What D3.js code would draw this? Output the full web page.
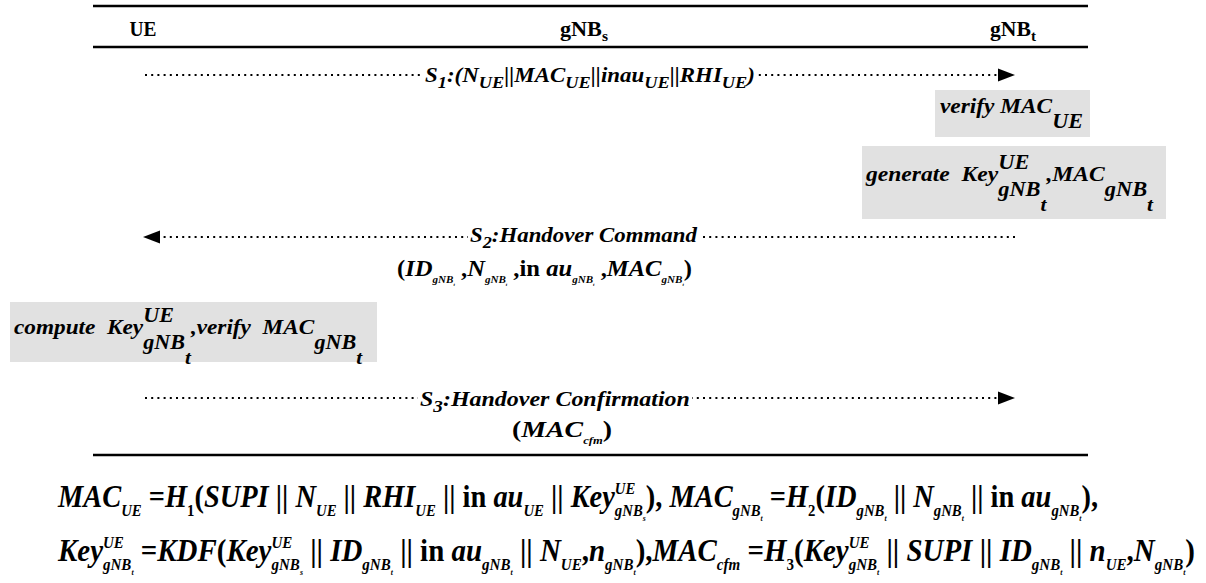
<!DOCTYPE html>
<html>
<head>
<meta charset="utf-8">
<script src="https://cdn.jsdelivr.net/npm/d3@7"></script>
<style>
  body { margin: 0; background: #fff; }
  svg text { white-space: pre; }
</style>
</head>
<body>
<svg id="chart" width="1206" height="583"></svg>
<script>
// participants of the handover, left to right
const participants = ["UE", "gNB_s", "gNB_t"];

// messages, in order ( _ sub, ^ sup, ` toggles upright )
const messages = [
  { from: "UE", to: "gNB_t", label: "S_1:(N_{UE}||MAC_{UE}||inau_{UE}||RHI_{UE})", param: null },
  { from: "gNB_t", to: "UE", label: "S_2:Handover Command", param: "`(`ID_{gNB_t}` ,`N_{gNB_t}` ,in `au_{gNB_t}` ,`MAC_{gNB_t}`)`" },
  { from: "UE", to: "gNB_t", label: "S_3:Handover Confirmation", param: "`(`MAC_{cfm}`)`" }
];

// local computations
const actions = [
  { at: "gNB_t", text: "verify MAC_{UE}" },
  { at: "gNB_t", text: "generate  Key^{UE}_{gNB_t},MAC_{gNB_t}" },
  { at: "UE", text: "compute  Key^{UE}_{gNB_t},verify  MAC_{gNB_t}" }
];

const formulas = [
  "MAC_{UE}` =`H_{`1`}`(`SUPI` || `N_{UE}` || `RHI_{UE}` || in `au_{UE}` || `Key^{UE}_{gNB_s}`), `MAC_{gNB_t}` =`H_{`2`}`(`ID_{gNB_t}` || `N_{gNB_t}` || in `au_{gNB_t}`),`",
  "Key^{UE}_{gNB_t}` =`KDF`(`Key^{UE}_{gNB_s}` || `ID_{gNB_t}` || in `au_{gNB_t}` || `N_{UE}`,`n_{gNB_t}`),`MAC_{cfm}` =`H_{`3`}`(`Key^{UE}_{gNB_t}` || `SUPI` || `ID_{gNB_t}` || `n_{UE}`,`N_{gNB_t}`)`"
];

const FONT = "Liberation Serif, Times New Roman, serif";

const svg = d3.select("#chart");
const x = d3.scalePoint().domain(participants).range([143, 1015]);

// ---- tiny math markup ----
function parse(s, st) {
  const out = [];
  let buf = "";
  const flush = () => { if (buf) out.push({ t: buf, up: st.up }); buf = ""; };
  while (st.i < s.length) {
    const c = s[st.i++];
    if (c === "}") break;
    if (c === "`") { flush(); st.up = !st.up; continue; }
    if (c === "_" || c === "^") {
      flush();
      let grp;
      if (s[st.i] === "{") { st.i++; grp = parse(s, st); }
      else grp = [{ t: s[st.i++], up: st.up }];
      let last = out[out.length - 1];
      if (!last || !last.scr) { last = { scr: true }; out.push(last); }
      last[c === "_" ? "sub" : "sup"] = grp;
      continue;
    }
    buf += c;
  }
  flush();
  return out;
}

function layout(g, nodes, x0, y, size, o) {
  let cx = x0;
  nodes.forEach(n => {
    if (n.scr) {
      let w = 0;
      if (n.sup) w = Math.max(w, layout(g, n.sup, cx, y - size * o.supUp, size * o.supScale, o) - cx);
      if (n.sub) w = Math.max(w, layout(g, n.sub, cx, y + size * o.subDown, size * o.subScale, o) - cx);
      cx += w;
    } else {
      const t = g.append("text")
        .attr("x", cx).attr("y", y)
        .attr("font-family", FONT)
        .attr("font-weight", "bold")
        .attr("font-size", size)
        .attr("font-style", n.up ? "normal" : "italic")
        .text(n.t);
      cx += t.node().getComputedTextLength();
    }
  });
  return cx;
}

function drawMath(str, o) {
  const g = svg.append("g");
  const inner = g.append("g");
  const nodes = parse(str, { i: 0, up: !!o.upright });
  const w = layout(inner, nodes, 0, 0, o.size, o);
  let x0 = o.x0, tw = o.x1 - o.x0;
  if (o.cx !== undefined) { tw = o.width; x0 = o.cx - tw / 2; }
  g.attr("transform", `translate(${x0},${o.y}) scale(${tw / w},1)`);
  return g;
}

// ---- frame rules ----
[6, 47, 455].forEach(y => {
  svg.append("line")
    .attr("x1", 93).attr("x2", 1088).attr("y1", y).attr("y2", y)
    .attr("stroke", "#000").attr("stroke-width", 2.6);
});

// ---- header ----
const headWidth = { "UE": 27, "gNB_s": 48, "gNB_t": 46 };
const headShift = { "UE": 0, "gNB_s": 5, "gNB_t": -2 };
participants.forEach(p => {
  drawMath(p, { cx: x(p) + headShift[p], width: headWidth[p], y: 36, size: 21, upright: true,
    supUp: 0.4, supScale: 0.7, subDown: 0.22, subScale: 0.7 });
});

// ---- messages ----
const msgY = [75, 237, 398];
const labelBox = [[425, 755, 82], [470, 697, 242], [420, 690, 406]];
const paramBox = [null, [397, 692, 276], [512, 612, 437]];
const labelOpts = { size: 22, supUp: 0.4, supScale: 0.8, subDown: 0.25, subScale: 0.8 };
const paramOpts = { size: 23, supUp: 0.4, supScale: 0.45, subDown: 0.3, subScale: 0.45 };

messages.forEach((m, i) => {
  const y = msgY[i];
  const x1 = x(m.from), x2 = x(m.to);
  const dir = Math.sign(x2 - x1);
  const head = 17;
  svg.append("line")
    .attr("x1", x1 + (dir < 0 ? 0 : 2)).attr("x2", x2 - dir * head)
    .attr("y1", y).attr("y2", y)
    .attr("stroke", "#000").attr("stroke-width", 2)
    .attr("stroke-dasharray", "2,4.2");
  svg.append("path")
    .attr("d", `M${x2},${y} L${x2 - dir * head},${y - 6.5} L${x2 - dir * head},${y + 6.5} Z`)
    .attr("fill", "#000");
  const [lx0, lx1, ly] = labelBox[i];
  svg.append("rect")
    .attr("x", lx0 - 2).attr("y", y - 4).attr("width", lx1 - lx0 + 4).attr("height", 8)
    .attr("fill", "#fff");
  drawMath(m.label, Object.assign({ x0: lx0, x1: lx1, y: ly }, labelOpts));
  if (m.param) {
    const [px0, px1, py] = paramBox[i];
    drawMath(m.param, Object.assign({ x0: px0, x1: px1, y: py }, paramOpts));
  }
});

// ---- local computation boxes ----
const actBox = [
  { r: [935, 90, 1090, 137], t: [940, 1083, 113] },
  { r: [862, 146, 1166, 219], t: [866, 1153, 181] },
  { r: [10, 302, 377, 362], t: [14, 362, 334] }
];
const actOpts = { size: 22, supUp: 0.55, supScale: 0.95, subDown: 0.7, subScale: 0.95 };
actions.forEach((a, i) => {
  const b = actBox[i];
  svg.append("rect")
    .attr("x", b.r[0]).attr("y", b.r[1])
    .attr("width", b.r[2] - b.r[0]).attr("height", b.r[3] - b.r[1])
    .attr("fill", "#e1e1e1");
  drawMath(a.text, Object.assign({ x0: b.t[0], x1: b.t[1], y: b.t[2] }, actOpts));
});

// ---- formulas ----
const formBox = [[58, 1098, 507], [58, 1195, 561]];
const formOpts = { size: 31, supUp: 0.42, supScale: 0.52, subDown: 0.3, subScale: 0.52 };
formulas.forEach((f, i) => {
  const [fx0, fx1, fy] = formBox[i];
  drawMath(f, Object.assign({ x0: fx0, x1: fx1, y: fy }, formOpts));
});
</script>
</body>
</html>
